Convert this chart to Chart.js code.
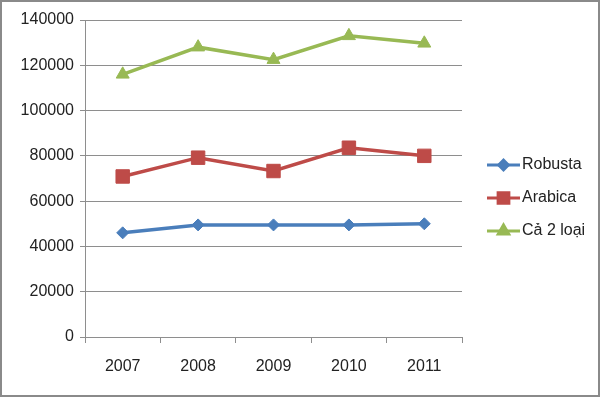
<!DOCTYPE html>
<html>
<head>
<meta charset="utf-8">
<script src="https://cdn.jsdelivr.net/npm/chart.js@4"></script>
<style>
  html, body { margin: 0; padding: 0; background: #fff; }
  #wrap { width: 600px; height: 397px; }
</style>
</head>
<body>
<div id="wrap"><canvas id="chart" width="600" height="397"></canvas></div>
<script>
// data
const years = ['2007', '2008', '2009', '2010', '2011'];
const robusta = [46000, 49500, 49500, 49500, 50000];
const arabica = [70900, 79200, 73300, 83600, 80000];
const both = [116000, 128000, 122500, 133000, 129700];
const seriesNames = ['Robusta', 'Arabica', 'Cả 2 loại'];
const yTicks = [0, 20000, 40000, 60000, 80000, 100000, 120000, 140000];

const FONT = { family: '"Liberation Sans", Arial, sans-serif', size: 16 };
const GRID = '#8e8e8e';

// legend on the right: line + marker, then label
const sideLegend = {
  id: 'sideLegend',
  afterDraw(chart) {
    const ctx = chart.ctx;
    const x0 = 487, x1 = 520;
    chart.data.datasets.forEach((ds, i) => {
      const y = 165 + i * 33;
      ctx.save();
      ctx.strokeStyle = ds.borderColor;
      ctx.lineWidth = 3;
      ctx.beginPath();
      ctx.moveTo(x0, y);
      ctx.lineTo(x1, y);
      ctx.stroke();
      Chart.helpers.drawPoint(ctx, {
        pointStyle: ds.pointStyle,
        radius: ds.pointRadius * 0.8,
        borderWidth: 1
      }, (x0 + x1) / 2, y);
      ctx.fillStyle = ds.backgroundColor;
      ctx.fill();
      ctx.fillStyle = '#222';
      ctx.font = FONT.size + 'px ' + FONT.family;
      ctx.textBaseline = 'middle';
      ctx.fillText(ds.label, x1 + 2, y);
      ctx.restore();
    });
  }
};

// thin frame round the whole picture
const frame = {
  id: 'frame',
  afterDraw(chart) {
    const ctx = chart.ctx;
    ctx.save();
    ctx.strokeStyle = '#8a8a8a';
    ctx.lineWidth = 2;
    ctx.strokeRect(1, 1, chart.width - 2, chart.height - 2);
    ctx.restore();
  }
};

const ctx = document.getElementById('chart').getContext('2d');
new Chart(ctx, {
  type: 'line',
  data: {
    labels: years,
    datasets: [
      { label: seriesNames[0], data: robusta, borderColor: '#4A7EBB', backgroundColor: '#4A7EBB',
        pointStyle: 'rectRot', pointRadius: 6 },
      { label: seriesNames[1], data: arabica, borderColor: '#BE4B48', backgroundColor: '#BE4B48',
        pointStyle: 'rect', pointRadius: 9.5 },
      { label: seriesNames[2], data: both, borderColor: '#98B954', backgroundColor: '#98B954',
        pointStyle: 'triangle', pointRadius: 7.5 }
    ].map(d => Object.assign(d, { borderWidth: 3.5, tension: 0, pointBorderWidth: 1 }))
  },
  options: {
    responsive: false,
    animation: false,
    layout: { padding: { top: 20, right: 138, left: 0, bottom: 0 } },
    plugins: { legend: { display: false }, tooltip: { enabled: false } },
    scales: {
      x: {
        offset: true,
        grid: { offset: true, drawOnChartArea: false, drawTicks: true, tickLength: 6, color: GRID },
        border: { color: GRID, width: 1 },
        ticks: { color: '#222', font: FONT, padding: 14 },
        afterFit(s) { s.height = 60; }
      },
      y: {
        min: 0,
        max: 140000,
        afterBuildTicks(s) { s.ticks = yTicks.map(v => ({ value: v })); },
        grid: { color: GRID, tickLength: 5, lineWidth: 1 },
        border: { color: GRID, width: 1 },
        ticks: { color: '#222', font: FONT, padding: 6, callback: v => String(v) },
        afterFit(s) { s.width = 85; }
      }
    }
  },
  plugins: [sideLegend, frame]
});
</script>
</body>
</html>
